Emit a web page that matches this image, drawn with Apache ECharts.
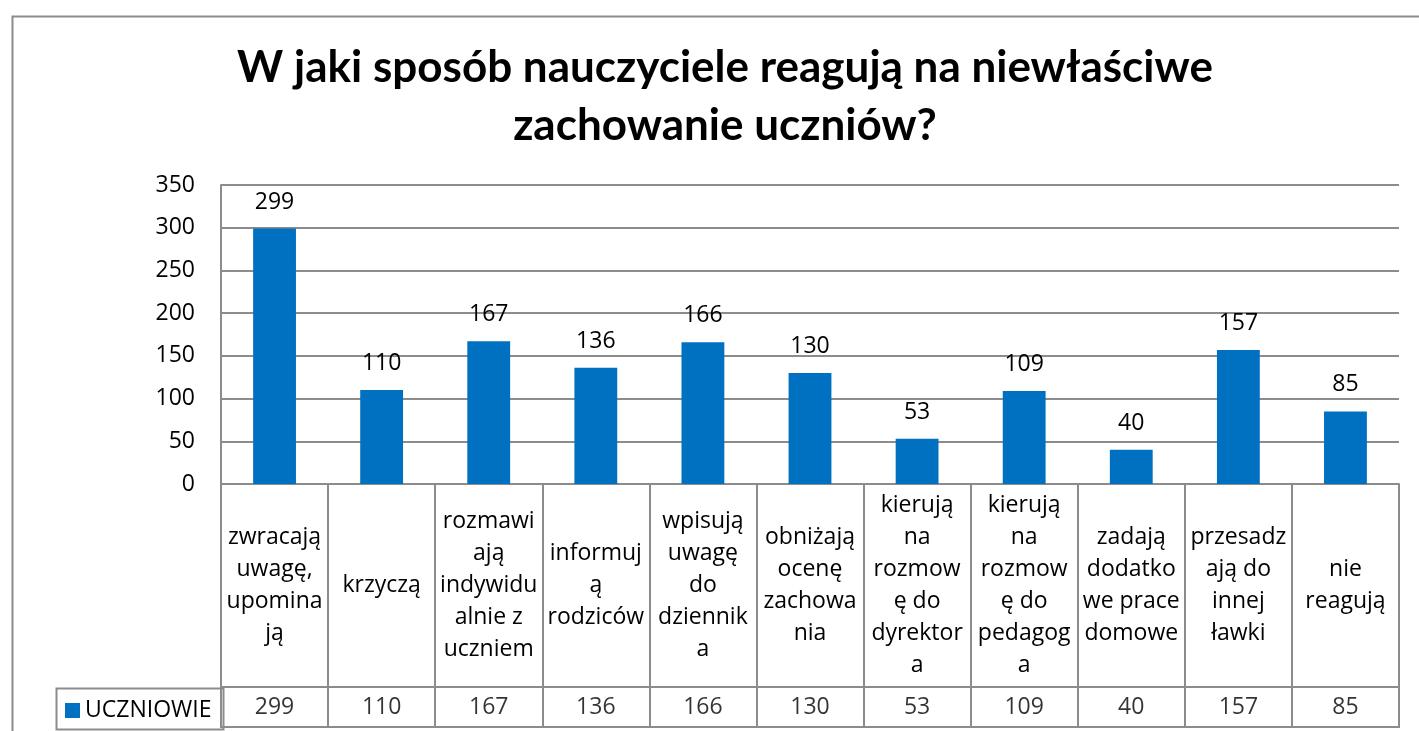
<!DOCTYPE html>
<html>
<head>
<meta charset="utf-8">
<script src="https://cdn.jsdelivr.net/npm/echarts@6/dist/echarts.min.js"></script>
<style>
  html, body { margin: 0; padding: 0; background: #fff; }
  #chart { width: 1419px; height: 731px; }
</style>
</head>
<body>
<div id="chart"></div>
<script>
// chart data
const categories = [
  "zwracają\nuwagę,\nupomina\nją",
  "krzyczą",
  "rozmawi\nają\nindywidu\nalnie z\nuczniem",
  "informuj\ną\nrodziców",
  "wpisują\nuwagę\ndo\ndziennik\na",
  "obniżają\nocenę\nzachowa\nnia",
  "kierują\nna\nrozmow\nę do\ndyrektor\na",
  "kierują\nna\nrozmow\nę do\npedagog\na",
  "zadają\ndodatko\nwe prace\ndomowe",
  "przesadz\nają do\ninnej\nławki",
  "nie\nreagują"
];
const values = [299, 110, 167, 136, 166, 130, 53, 109, 40, 157, 85];
const seriesName = "UCZNIOWIE";
const titleText = "W jaki sposób nauczyciele reagują na niewłaściwe\nzachowanie uczniów?";

const FONT = "Open Sans";
const TITLE_FONT = "Lato";
const FS = 23;
const GRID_COLOR = "#8c8c8c";
const BAR_COLOR = "#0070C0";

const chart = echarts.init(document.getElementById("chart"));

const option = {
  backgroundColor: "#fff",
  animation: false,
  textStyle: { fontFamily: FONT },
  title: {
    text: titleText,
    left: 720,
    top: 34,
    textAlign: "center",
    textStyle: {
      fontFamily: TITLE_FONT,
      fontSize: 44,
      fontWeight: "bold",
      lineHeight: 58,
      color: "#000"
    }
  },
  legend: {
    data: [seriesName],
    left: 60,
    top: 694,
    icon: "rect",
    itemWidth: 15,
    itemHeight: 15,
    itemGap: 6,
    textStyle: { fontFamily: FONT, fontSize: FS, color: "#000" }
  },
  grid: [
    { left: 221, right: 20, top: 185, bottom: 247 },
    { left: 221, right: 20, top: 687, height: 40, show: true, borderColor: GRID_COLOR, borderWidth: 2 }
  ],
  xAxis: [
    {
      type: "category",
      gridIndex: 0,
      data: categories,
      axisLine: { show: true, lineStyle: { color: GRID_COLOR, width: 2 } },
      axisTick: { show: true, length: 243, interval: 0, lineStyle: { color: GRID_COLOR, width: 2 } },
      axisLabel: {
        interval: 0,
        margin: 101,
        verticalAlign: "middle",
        fontFamily: FONT,
        fontSize: FS,
        lineHeight: 32,
        color: "#000",
        align: "center"
      }
    },
    {
      type: "category",
      gridIndex: 1,
      data: categories,
      show: false
    }
  ],
  yAxis: [
    {
      type: "value",
      gridIndex: 0,
      min: 0,
      max: 350,
      interval: 50,
      axisLine: { show: true, lineStyle: { color: GRID_COLOR, width: 2 } },
      axisTick: { show: false },
      splitLine: { show: true, lineStyle: { color: GRID_COLOR, width: 2 } },
      axisLabel: { margin: 26, fontFamily: FONT, fontSize: FS, color: "#000" }
    },
    {
      type: "value",
      gridIndex: 1,
      min: 0,
      max: 1,
      show: false
    }
  ],
  graphic: [
    {
      type: "rect",
      left: 10,
      top: 14,
      shape: { width: 1420, height: 730 },
      style: { fill: "none", stroke: "#8c8c8c", lineWidth: 2 },
      silent: true
    },
    {
      type: "rect",
      left: 54,
      top: 686,
      shape: { width: 167, height: 41 },
      style: { fill: "none", stroke: GRID_COLOR, lineWidth: 2 },
      silent: true
    }
  ],
  series: [
    {
      name: seriesName,
      type: "bar",
      xAxisIndex: 0,
      yAxisIndex: 0,
      data: values,
      barWidth: "40%",
      itemStyle: { color: BAR_COLOR },
      label: {
        show: true,
        position: "top",
        distance: 15,
        fontFamily: FONT,
        fontSize: FS,
        color: "#000"
      }
    },
    {
      name: "table",
      type: "scatter",
      xAxisIndex: 1,
      yAxisIndex: 1,
      symbolSize: 0,
      silent: true,
      data: values.map((v, i) => [i, 0.5, v]),
      label: {
        show: true,
        position: "inside",
        formatter: (p) => String(p.value[2]),
        fontFamily: FONT,
        fontSize: FS,
        color: "#000"
      }
    }
  ]
};

chart.setOption(option);
</script>
</body>
</html>
